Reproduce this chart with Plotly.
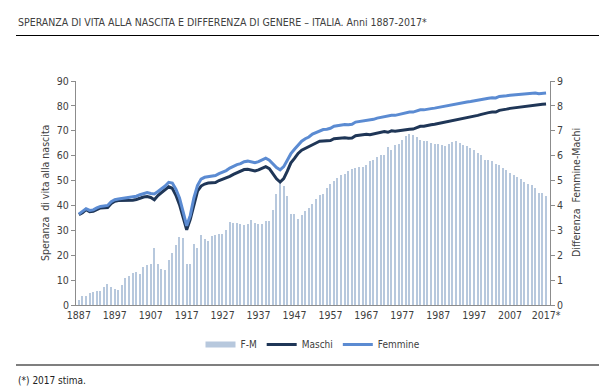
import plotly.graph_objects as go

# ---------------- data ----------------
years = list(range(1887, 2018))

femmine = [
    36.5, 37.5, 38.7, 38.0, 38.2, 39.0, 39.6, 39.8, 40.0, 41.5,
    42.3, 42.6, 42.8, 43.0, 43.2, 43.4, 43.7, 44.3, 44.9, 45.2,
    44.8, 44.6, 45.6, 46.6, 47.8, 49.3, 49.0, 46.5, 43.0, 37.5,
    31.8, 36.0, 43.0, 48.0,
    50.6, 51.3, 51.6, 51.8, 52.0, 52.8, 53.4, 54.0, 55.0, 55.8,
    56.4, 56.8, 57.6, 57.8, 57.5, 57.2, 57.6, 58.3, 59.0, 58.2,
    56.6, 55.2, 54.3, 55.6, 58.2, 60.8, 62.6, 64.4, 65.8, 66.8,
    67.5, 68.7,
    69.3, 70.2, 70.5, 70.6, 71.0, 71.8, 72.1, 72.2, 72.5, 72.4,
    72.6, 73.5, 73.7, 74.0, 74.2, 74.2, 74.6, 75.1, 75.4, 75.7,
    75.7, 76.2, 76.2, 76.5, 77.0, 77.2, 77.5, 77.5, 78.0, 78.4,
    78.4, 78.8, 78.9, 79.1, 79.4, 79.5, 79.9, 80.3, 80.5, 80.7,
    81.0, 81.3, 81.6, 81.8, 82.1, 82.3, 82.6, 82.9, 83.1, 83.3,
    83.2, 83.8, 83.8, 84.1, 84.3, 84.4, 84.5, 84.7, 84.8, 84.8,
    85.0, 85.2, 84.9, 85.2, 85.2,
]

maschi = [
    36.3, 37.1, 38.3, 37.5, 37.7, 38.4, 39.0, 39.1, 39.2, 40.8,
    41.7, 42.0, 42.0, 41.9, 42.0, 42.1, 42.4, 43.0, 43.4, 43.6,
    43.2, 42.3, 44.0, 45.2, 46.4, 47.5, 46.9, 44.1, 40.3, 34.8,
    30.2, 34.4, 40.5, 45.7,
    47.8, 48.6, 49.0, 49.0, 49.2, 50.0, 50.5, 51.0, 51.7, 52.5,
    53.1, 53.5, 54.4, 54.5, 54.1, 53.9, 54.3, 55.0, 55.6, 54.8,
    52.8, 50.7, 49.4, 50.8, 53.8, 57.1, 58.9, 60.9, 62.2, 63.0,
    63.6, 64.6,
    65.1, 65.8, 66.0, 65.9, 66.1, 66.8, 67.0, 67.0, 67.2, 67.0,
    67.1, 68.0, 68.2, 68.5, 68.6, 68.4, 68.8, 69.2, 69.4, 69.7,
    69.4, 70.0, 69.8, 70.0, 70.4, 70.4, 70.6, 70.7, 71.3, 71.8,
    71.8, 72.2, 72.4, 72.6, 72.9, 73.1, 73.5, 73.8, 74.0, 74.1,
    74.5, 74.9, 75.2, 75.5, 75.9, 76.2, 76.6, 77.1, 77.3, 77.5,
    77.5, 78.2, 78.3, 78.7, 79.0, 79.2, 79.4, 79.6, 79.9, 79.9,
    80.2, 80.5, 80.4, 80.7, 80.8,
]

diff_fm = [
    0.22, 0.36, 0.36, 0.49, 0.53, 0.56, 0.58, 0.72, 0.83, 0.72,
    0.65, 0.62, 0.80, 1.09, 1.16, 1.27, 1.33, 1.25, 1.54, 1.60,
    1.63, 2.30, 1.65, 1.43, 1.40, 1.80, 2.10, 2.43, 2.73, 2.68,
    1.63, 1.63,
    2.46, 2.30, 2.81, 2.67, 2.57, 2.79, 2.83, 2.85, 2.85, 3.03,
    3.33, 3.30, 3.30, 3.26, 3.20, 3.26, 3.40, 3.30, 3.26, 3.26,
    3.36, 3.36, 3.83, 4.47, 4.90, 4.80, 4.37, 3.66, 3.66, 3.47,
    3.61, 3.77, 3.90, 4.06,
    4.24, 4.41, 4.46, 4.70, 4.86, 4.97, 5.10, 5.24, 5.26, 5.37,
    5.48, 5.50, 5.53, 5.53, 5.64, 5.77, 5.84, 5.93, 6.02, 6.04,
    6.33, 6.24, 6.42, 6.47, 6.64, 6.78, 6.87, 6.84, 6.74, 6.64,
    6.57, 6.57, 6.51, 6.47, 6.47, 6.44, 6.40, 6.47, 6.55, 6.60,
    6.51, 6.44, 6.37, 6.30, 6.24, 6.10, 6.01, 5.84, 5.84, 5.77,
    5.67, 5.61, 5.50, 5.44, 5.30, 5.24, 5.13, 5.08, 4.94, 4.86,
    4.83, 4.70, 4.50, 4.50, 4.37,
]

tick_years = list(range(1887, 2018, 10))
tick_text = [str(y) for y in tick_years[:-1]] + ["2017*"]

# ---------------- style ----------------
FONT = "DejaVu Sans Condensed, Liberation Sans Narrow, sans-serif"
TXT = "#404040"
AXC = "#8C8C8C"
C_BAR = "#B7C8DD"
C_M = "#1F3657"
C_F = "#5B8BD2"

fig = go.Figure()
fig.add_trace(go.Bar(x=years, y=diff_fm, yaxis="y", name="F-M",
                     marker=dict(color=C_BAR, line_width=0), width=0.36,
                     showlegend=False))
fig.add_trace(go.Scatter(x=[None], y=[None], yaxis="y", mode="lines",
                         name="F-M", line=dict(color=C_BAR, width=6)))
fig.add_trace(go.Scatter(x=years, y=maschi, yaxis="y2", mode="lines",
                         name="Maschi", line=dict(color=C_M, width=3)))
fig.add_trace(go.Scatter(x=years, y=femmine, yaxis="y2", mode="lines",
                         name="Femmine", line=dict(color=C_F, width=3)))

W, H = 607, 387
L, R, T, B = 68, 65, 73, 90
pw, ph = W - L - R, H - T - B


def px(x):
    return (x - L) / pw


def py(y):
    return (H - B - y) / ph


TICKF = dict(family=FONT, size=10.5, color=TXT)

fig.update_layout(
    width=W, height=H,
    margin=dict(l=L, r=R, t=T, b=B),
    paper_bgcolor="white", plot_bgcolor="white",
    font=dict(family=FONT, size=10.5, color=TXT),
    bargap=0,
    title=dict(text="SPERANZA DI VITA ALLA NASCITA E DIFFERENZA DI GENERE \u2013 ITALIA. Anni 1887-2017*",
               xref="container", yref="container", x=10 / W, y=1 - 14 / H,
               xanchor="left", yanchor="middle",
               font=dict(family=FONT, size=10.5, color=TXT)),
    xaxis=dict(range=[1886.2, 2018.1], tickvals=tick_years, ticktext=tick_text,
               showline=True, linecolor=AXC, linewidth=1, ticks="",
               showgrid=False, zeroline=False, tickfont=TICKF),
    yaxis=dict(side="right", range=[0, 9], dtick=1, showline=True,
               linecolor=AXC, linewidth=1, ticks="outside", ticklen=4,
               tickcolor=AXC, showgrid=False, zeroline=False, tickfont=TICKF),
    yaxis2=dict(side="left", overlaying="y", anchor="x", range=[0, 90],
                dtick=10, showline=True, linecolor=AXC, linewidth=1,
                ticks="outside", ticklen=4, tickcolor=AXC, showgrid=False,
                zeroline=False, tickfont=TICKF),
    legend=dict(orientation="h", x=0.5, xanchor="center", y=py(336.5),
                yanchor="middle", font=dict(family=FONT, size=10, color=TXT),
                bgcolor="rgba(0,0,0,0)", traceorder="normal"),
    shapes=[
        dict(type="line", xref="paper", yref="paper", x0=px(8), x1=px(598),
             y0=py(27.5), y1=py(27.5), line=dict(color="black", width=1.2)),
        dict(type="line", xref="paper", yref="paper", x0=px(8), x1=px(593),
             y0=py(357), y1=py(357), line=dict(color="black", width=1.2)),
    ],
    annotations=[
        dict(text="Speranza  di vita alla nascita", xref="paper", yref="paper",
             x=px(37), y=0.5, textangle=-90, showarrow=False,
             xanchor="center", yanchor="middle",
             font=dict(family=FONT, size=10.5, color=TXT)),
        dict(text="Differenza  Femmine-Machi", xref="paper", yref="paper",
             x=px(568), y=0.5, textangle=-90, showarrow=False,
             xanchor="center", yanchor="middle",
             font=dict(family=FONT, size=10.5, color=TXT)),
        dict(text="(*) 2017 stima.", xref="paper", yref="paper",
             x=px(8), y=py(372), showarrow=False, xanchor="left",
             yanchor="middle", font=dict(family=FONT, size=10, color="#222222")),
    ],
)

fig.write_html("out.html")
